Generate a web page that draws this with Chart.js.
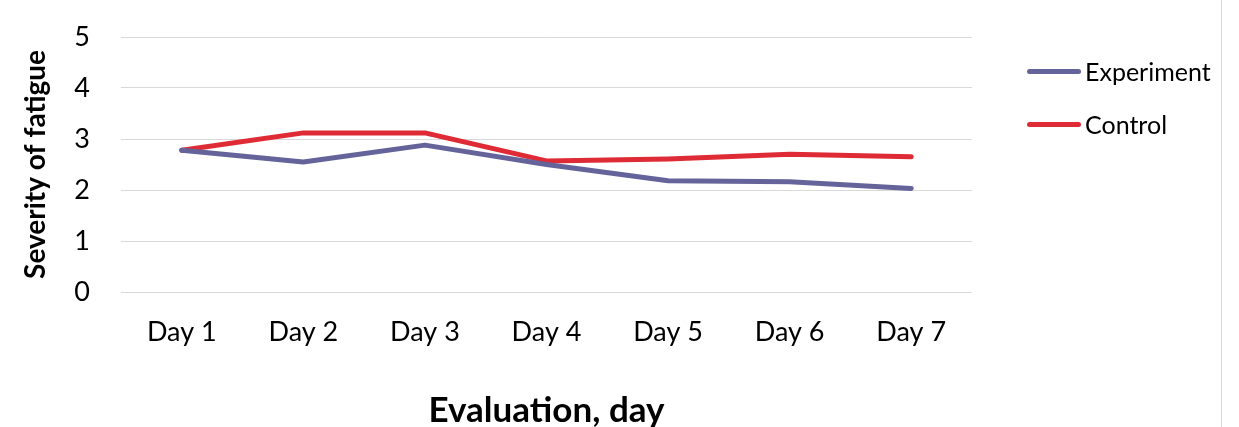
<!DOCTYPE html>
<html>
<head>
<meta charset="utf-8">
<script src="https://cdn.jsdelivr.net/npm/chart.js@4"></script>
<style>
  html, body { margin: 0; padding: 0; background: #fff; }
  #wrap { position: relative; width: 1239px; height: 427px; font-family: Lato, "Open Sans", sans-serif; }
  #edge { position: absolute; left: 1221px; top: 0; width: 1px; height: 427px; background: #d9d9d9; }
  .leg { position: absolute; left: 1027px; height: 30px; display: flex; align-items: center; font-size: 25px; color: #000; }
  .leg span.ln { display: inline-block; width: 54px; height: 5px; border-radius: 3px; margin-right: 4px; }
</style>
</head>
<body>
<div id="wrap">
  <canvas id="chart" width="1239" height="427"></canvas>
  <div id="edge"></div>
  <div id="legend"></div>
</div>
<script>
const days = ['Day 1', 'Day 2', 'Day 3', 'Day 4', 'Day 5', 'Day 6', 'Day 7'];
const experiment = [2.78, 2.55, 2.88, 2.50, 2.18, 2.16, 2.03];
const control = [2.78, 3.12, 3.12, 2.57, 2.61, 2.70, 2.65];
const seriesNames = ['Experiment', 'Control'];
const seriesColors = ['#64649a', '#df2b35'];

const fontFamily = 'Lato, "Open Sans", sans-serif';

// legend drawn beside the plot, like the office chart
const legendBox = document.getElementById('legend');
const legendTops = [56, 109];
seriesNames.forEach(function (name, i) {
    const item = document.createElement('div');
    item.className = 'leg';
    item.style.top = legendTops[i] + 'px';
    item.innerHTML = '<span class="ln" style="background:' + seriesColors[i] + '"></span>' + name;
    legendBox.appendChild(item);
});

new Chart(document.getElementById('chart'), {
    type: 'line',
    data: {
        labels: days,
        datasets: [
            { label: seriesNames[0], data: experiment, borderColor: seriesColors[0], backgroundColor: seriesColors[0] },
            { label: seriesNames[1], data: control, borderColor: seriesColors[1], backgroundColor: seriesColors[1] }
        ]
    },
    options: {
        responsive: false,
        animation: false,
        devicePixelRatio: 1,
        elements: {
            line: { borderWidth: 5, tension: 0, borderCapStyle: 'round', borderJoinStyle: 'round' },
            point: { radius: 0, hoverRadius: 0 }
        },
        layout: { padding: { left: 0, right: 267, top: 37, bottom: 0 } },
        plugins: { legend: { display: false }, tooltip: { enabled: false } },
        scales: {
            x: {
                offset: true,
                grid: { display: false, drawTicks: false },
                border: { display: false },
                ticks: { color: '#000', padding: 24, font: { family: fontFamily, size: 27 } },
                title: { display: true, text: 'Evaluation, day', color: '#000', padding: { top: 0, bottom: 0 },
                         font: { family: fontFamily, size: 35, weight: 'bold', lineHeight: 0.95 } },
                afterFit: function (scale) { scale.height = 135; }
            },
            y: {
                min: 0,
                max: 5,
                grid: { color: '#d9d9d9', lineWidth: 1, drawTicks: false },
                border: { display: false },
                ticks: { stepSize: 1, color: '#000', padding: 31, font: { family: fontFamily, size: 27 } },
                title: { display: true, text: 'Severity of fatigue', color: '#000', padding: { top: 19, bottom: 0 },
                         font: { family: fontFamily, size: 28, weight: 'bold' } },
                afterFit: function (scale) {
                    scale.width = 121;
                    // keep the plot top where the layout padding puts it
                    scale.paddingTop = 0;
                    scale.paddingBottom = 0;
                }
            }
        }
    }
});
</script>
</body>
</html>
